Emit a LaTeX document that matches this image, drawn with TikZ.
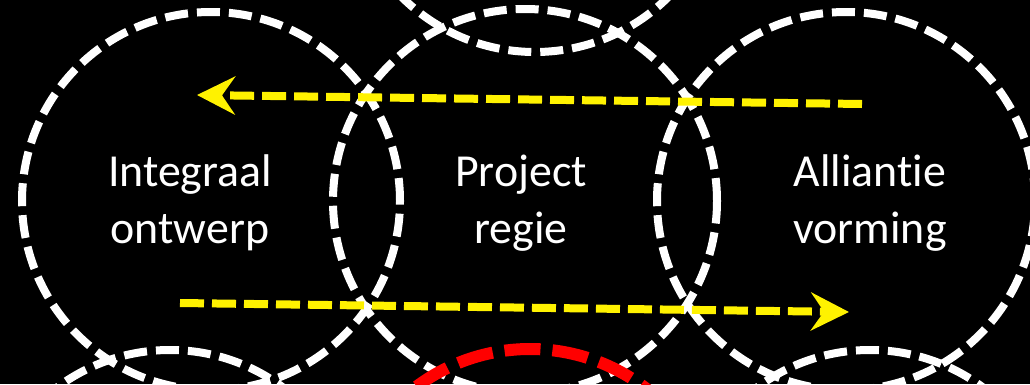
\documentclass[tikz,border=0pt]{standalone}
\usepackage{fontspec}
\setmainfont{Carlito}[Ligatures={NoCommon}]
\usetikzlibrary{arrows.meta}
\tikzset{
  ring/.style={circle, draw=white, line width=8bp, dash pattern=on 23bp off 9bp, minimum size=#1, inner sep=0pt},
  redring/.style={circle, draw=red, line width=12bp, dash pattern=on 36bp off 12bp, minimum size=#1, inner sep=0pt},
  flow/.style={draw=yellow, line width=8bp, dash pattern=on 24bp off 8bp,
    -{Stealth[length=38bp, width=38bp, inset=13bp, fill=yellow]}},
  label/.style={text=white, font=\fontsize{46}{57}\selectfont, align=center, inner sep=0pt}
}
\begin{document}
\begin{tikzpicture}[x=1bp, y=-1bp]
\useasboundingbox (0,0) rectangle (1030,384);
\fill[black] (0,0) rectangle (1030,384);
\clip (0,0) rectangle (1030,384);
% circles
\node[ring=378bp] (top) at (535,-137) {};
\node[ring=378bp] (bl) at (170,539) {};
\node[ring=378bp] (br) at (870,539) {};
\node[ring=378bp] (left) at (211,201) {};
\node[ring=384bp] (mid) at (525,201) {};
\node[ring=378bp] (right) at (846,201) {};
\node[redring=380bp] (bc) at (530,539) {};
% labels
\node[label] (t1) at (190,203) {Integraal\\ontwerp};
\node[label] (t2) at (521,203) {Project\\regie};
\node[label] (t3) at (870,203) {Alliantie\\vorming};
% arrows
\coordinate (a1s) at (862,104);
\coordinate (a1e) at (197,95);
\coordinate (a2s) at (180,303);
\coordinate (a2e) at (849,312);
\draw[flow] (a1s) -- (a1e);
\draw[flow] (a2s) -- (a2e);
\end{tikzpicture}
\end{document}
